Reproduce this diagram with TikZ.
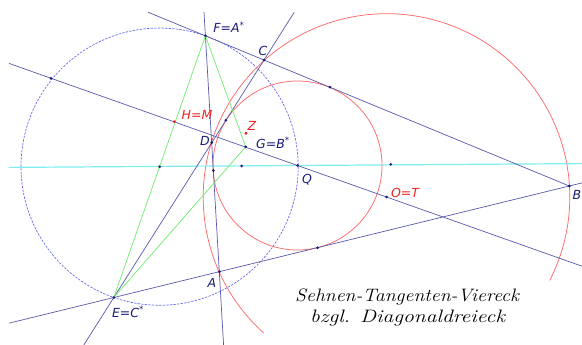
\documentclass[tikz,border=0pt]{standalone}
\usepackage{fontspec}
\newfontfamily\lblfont{DejaVu Sans}

\definecolor{geoblue}{RGB}{88,88,172}
\definecolor{geogreen}{RGB}{110,235,110}
\definecolor{geored}{RGB}{255,105,105}
\definecolor{geocyan}{RGB}{125,238,240}
\definecolor{geodash}{RGB}{105,105,235}
\definecolor{navy}{RGB}{28,28,120}
\definecolor{lblred}{RGB}{235,35,35}

\begin{document}
\begin{tikzpicture}[x=1pt,y=-1pt,line cap=round,line join=round,
  geoline/.style={geoblue,line width=0.7pt},
  diagline/.style={geogreen,line width=0.7pt},
  redcirc/.style={geored,line width=0.75pt},
  dashcirc/.style={geodash,line width=0.7pt,dash pattern=on 2pt off 1.6pt},
  centerline/.style={geocyan,line width=1.2pt},
  lbl/.style={navy,font=\lblfont\itshape\fontsize{12.5}{14}\selectfont,inner sep=0pt},
  redlbl/.style={lbl,lblred},
  title/.style={font=\itshape\fontsize{18}{20}\selectfont,inner sep=0pt,anchor=west}]
  \useasboundingbox (0,0) rectangle (582,345);

  % Punkte des Vierecks und des Diagonaldreiecks
  \coordinate (A) at (219.3,271.7);
  \coordinate (B) at (569.3,186);
  \coordinate (C) at (264,60);
  \coordinate (D) at (211.7,142.7);
  \coordinate (E) at (113.8,297.5);
  \coordinate (F) at (205.4,35.8);
  \coordinate (G) at (245.7,146.8);
  \coordinate (M) at (159.6,166.65);
  \coordinate (Q) at (297.5,165.5);
  \coordinate (O) at (386.5,197);
  \coordinate (H) at (174.3,121.7);
  \coordinate (Z) at (246,133.3);

  % Beruehrpunkte und Hilfspunkte
  \coordinate (TBC) at (329.9,87.1);
  \coordinate (TAB) at (317.6,247.7);
  \coordinate (TCD) at (225.9,120.2);
  \coordinate (TDA) at (213.3,170.5);
  \coordinate (P1) at (241.6,165.9);
  \coordinate (P2) at (390.7,164.3);
  \coordinate (P3) at (51,78.3);

  % freie Enden der Geraden
  \coordinate (bcEnd) at (148.3,12.3);
  \coordinate (daTop) at (204,12.3);
  \coordinate (daBot) at (223.6,345);
  \coordinate (cdTop) at (294.2,12.3);
  \coordinate (cdBot) at (83.8,345);
  \coordinate (abLeft) at (9.3,323.1);
  \coordinate (abRight) at (582,182.9);
  \coordinate (qoLeft) at (9.3,63.5);
  \coordinate (qoRight) at (582,266.2);
  \coordinate (mqLeft) at (9,167.4);
  \coordinate (mqRight) at (582,163.6);

  % Kreise
  \draw[dashcirc] (M) circle[radius=138.6];
  \draw[redcirc] (Q) circle[radius=84.5];
  \draw[redcirc] (O) ++(132:183.3) arc[start angle=132,end angle=387,radius=183.3];

  % Geraden
  \draw[centerline] (mqLeft) -- (mqRight);
  \draw[geoline] (bcEnd) -- (B);
  \draw[geoline] (daTop) -- (daBot);
  \draw[geoline] (cdTop) -- (cdBot);
  \draw[geoline] (abLeft) -- (abRight);
  \draw[geoline] (qoLeft) -- (qoRight);

  % Diagonaldreieck
  \draw[diagline] (E) -- (F) -- (G) -- cycle;

  % Punkte
  \foreach \p in {A,B,C,D,E,F,G,M,Q,O,TBC,TAB,TCD,TDA,P1,P2,P3}
    \fill[navy] (\p) circle[radius=1.5];
  \fill[lblred] (H) circle[radius=1.6];
  \fill[lblred] (Z) circle[radius=1.6];

  % Beschriftung
  \node[lbl] (lF) at (229,27) {F=A\textsuperscript{*}};
  \node[lbl] (lC) at (263,51) {C};
  \node[redlbl] (lH) at (197,115) {H=M};
  \node[redlbl] (lZ) at (252,126) {Z};
  \node[lbl] (lD) at (205,141) {D};
  \node[lbl] (lG) at (273,143) {G=B\textsuperscript{*}};
  \node[lbl] (lQ) at (307,180) {Q};
  \node[redlbl] (lO) at (405,193) {O=T};
  \node[lbl] (lB) at (577,195) {B};
  \node[lbl] (lA) at (212,283) {A};
  \node[lbl] (lE) at (128,312) {E=C\textsuperscript{*}};

  \node[title] (t1) at (295,297) {\scalebox{1.1}[1]{Sehnen-Tangenten-Viereck}};
  \node[title] (t2) at (310,318) {\scalebox{1.2}[1]{bzgl. Diagonaldreieck}};
\end{tikzpicture}
\end{document}
